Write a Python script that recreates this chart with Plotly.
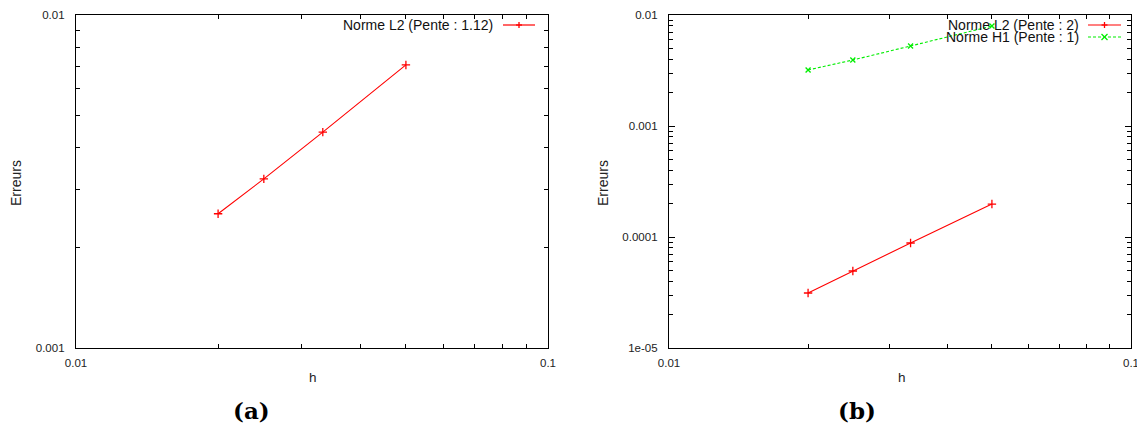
import plotly.graph_objects as go

# ---- data ----
h_values = [0.02, 0.025, 1/30, 0.05]
err_l2_a = [0.00253, 0.00322, 0.00445, 0.00708]
err_l2_b = [3.13e-5, 4.94e-5, 8.83e-5, 1.98e-4]
err_h1_b = [3.20e-3, 3.93e-3, 5.26e-3, 7.95e-3]

label_l2_a = "Norme L2 (Pente : 1.12)"
label_l2_b = "Norme L2 (Pente : 2)"
label_h1_b = "Norme H1 (Pente : 1)"

x_major = [0.01, 0.1]
x_major_text = ["0.01", "0.1"]
x_minor = [0.02, 0.03, 0.04, 0.05, 0.06, 0.07, 0.08, 0.09]
ya_major = [0.001, 0.01]
ya_major_text = ["0.001", "0.01"]
ya_minor = [0.002, 0.003, 0.004, 0.005, 0.006, 0.007, 0.008, 0.009]
yb_major = [1e-5, 1e-4, 1e-3, 1e-2]
yb_major_text = ["1e-05", "0.0001", "0.001", "0.01"]
yb_minor = [m * d for d in (1e-5, 1e-4, 1e-3) for m in range(2, 10)]

# the page body has an 8px margin: the figure is shifted by it
OFF = 8
W, H = 1145 - OFF, 428 - OFF
RED = "#ff0000"
GREEN = "#00ee00"
FONT = "Liberation Sans, Arial, sans-serif"


def px(x):
    return (x - OFF) / W


def py(y):
    return 1 - (y - OFF) / H


fig = go.Figure()

fig.add_trace(go.Scatter(
    x=h_values, y=err_l2_a, mode="lines+markers", xaxis="x", yaxis="y",
    line=dict(color=RED, width=1.1),
    marker=dict(symbol="cross-thin", size=6, line=dict(color=RED, width=1.3)),
    showlegend=False))
fig.add_trace(go.Scatter(
    x=h_values, y=err_l2_b, mode="lines+markers", xaxis="x2", yaxis="y2",
    line=dict(color=RED, width=1.1),
    marker=dict(symbol="cross-thin", size=6, line=dict(color=RED, width=1.3)),
    showlegend=False))
fig.add_trace(go.Scatter(
    x=h_values, y=err_h1_b, mode="lines+markers", xaxis="x2", yaxis="y2",
    line=dict(color=GREEN, width=1.1, dash="3px,2px"),
    marker=dict(symbol="x-thin", size=5, line=dict(color=GREEN, width=1.3)),
    showlegend=False))

tickfont = dict(family=FONT, size=11.5, color="#222222")


def xaxis_def(domain, anchor):
    return dict(
        type="log", domain=domain, anchor=anchor, range=[-2, -1],
        tickmode="array", tickvals=x_major, ticktext=x_major_text,
        ticks="inside", ticklen=6, tickwidth=1, tickcolor="black",
        minor=dict(tickmode="array", tickvals=x_minor, ticks="inside",
                   ticklen=4, tickcolor="black", showgrid=False),
        showline=True, linecolor="black", linewidth=1.3, mirror="ticks",
        showgrid=False, zeroline=False, tickfont=tickfont,
        ticklabelstandoff=4, automargin=False,
    )


def yaxis_def(domain, anchor, rng, major, major_text, minor):
    return dict(
        type="log", domain=domain, anchor=anchor, range=rng,
        tickmode="array", tickvals=major, ticktext=major_text,
        ticks="inside", ticklen=6, tickwidth=1, tickcolor="black",
        minor=dict(tickmode="array", tickvals=minor, ticks="inside",
                   ticklen=4, tickcolor="black", showgrid=False),
        showline=True, linecolor="black", linewidth=1.3, mirror="ticks",
        showgrid=False, zeroline=False, tickfont=tickfont,
        ticklabelstandoff=8, automargin=False,
    )


ydom = [py(348), py(15)]

annotations = []
shapes = []


def label(x, y, text, size, family=FONT, angle=0, color="#222222", xanchor="center"):
    annotations.append(dict(x=px(x), y=py(y), xref="paper", yref="paper",
                            text=text, showarrow=False, textangle=angle,
                            xanchor=xanchor, yanchor="middle",
                            font=dict(family=family, size=size, color=color)))


# axis titles and panel labels
for cx in (313, 902):
    label(cx, 377, "h", 13.5)
label(251, 410, "<b>(a)</b>", 23, family="DejaVu Serif, serif", color="black")
label(857, 410, "<b>(b)</b>", 23, family="DejaVu Serif, serif", color="black")
for cx in (16, 603):
    label(cx, 183, "Erreurs", 14, angle=-90)


def legend_entry(text_right, y, x0, x1, color, dash, symbol, text):
    label(text_right, y, text, 14, color="#111111", xanchor="right")
    shapes.append(dict(type="line", xref="paper", yref="paper",
                       x0=px(x0), x1=px(x1), y0=py(y), y1=py(y),
                       line=dict(color=color, width=1.2, dash=dash)))
    cx = (x0 + x1) / 2
    s = 3
    if symbol == "+":
        segs = [(cx - s, y, cx + s, y), (cx, y - s, cx, y + s)]
    else:
        segs = [(cx - s, y - s, cx + s, y + s), (cx - s, y + s, cx + s, y - s)]
    for a, b, c, d in segs:
        shapes.append(dict(type="line", xref="paper", yref="paper",
                           x0=px(a), y0=py(b), x1=px(c), y1=py(d),
                           line=dict(color=color, width=1.3)))


legend_entry(495, 25, 503, 535, RED, "solid", "+", label_l2_a)
legend_entry(1081, 25, 1088, 1121, RED, "solid", "+", label_l2_b)
legend_entry(1081, 37, 1088, 1121, GREEN, "3px,2px", "x", label_h1_b)

fig.update_layout(
    width=W, height=H,
    margin=dict(l=0, r=0, t=0, b=0, pad=0, autoexpand=False),
    paper_bgcolor="white", plot_bgcolor="white",
    showlegend=False,
    xaxis=xaxis_def([px(76), px(548)], "y"),
    yaxis=yaxis_def(ydom, "x", [-3, -2], ya_major, ya_major_text, ya_minor),
    xaxis2=xaxis_def([px(669), px(1131)], "y2"),
    yaxis2=yaxis_def(ydom, "x2", [-5, -2], yb_major, yb_major_text, yb_minor),
    annotations=annotations,
    shapes=shapes,
)

fig.write_html("out.html")
